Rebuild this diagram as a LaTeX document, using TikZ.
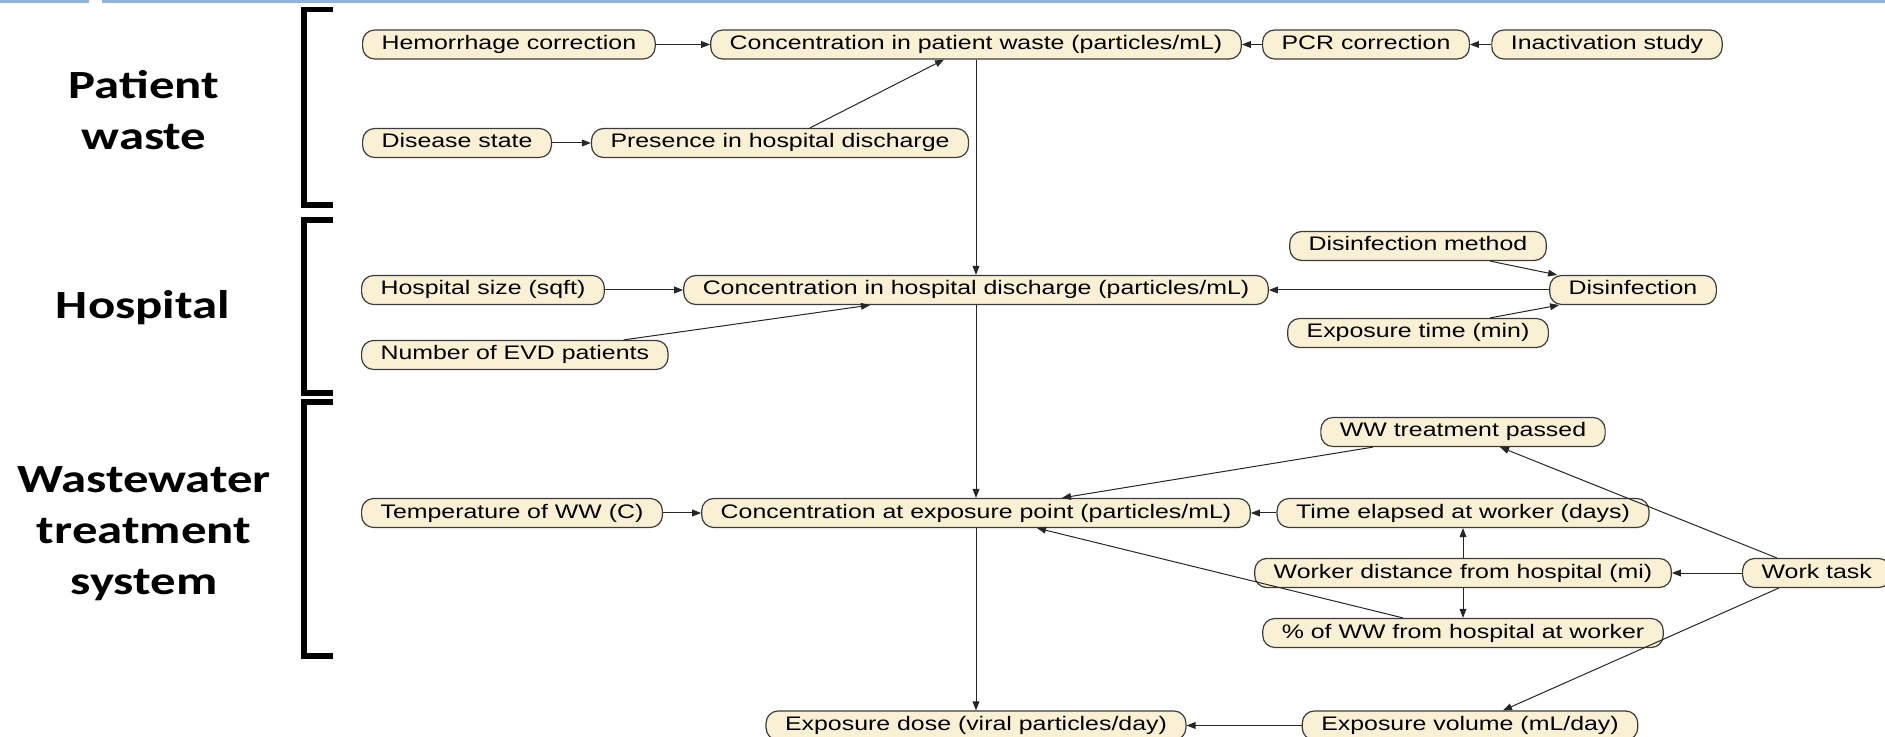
\documentclass[tikz,border=0pt]{standalone}
\usepackage{fontspec}
\newfontfamily\varfont[FakeStretch=1.27]{Liberation Sans}
\newfontfamily\bandfont[FakeStretch=1.27]{Carlito}
\definecolor{cream}{RGB}{250,240,212}
\definecolor{rimgray}{RGB}{60,60,60}
\definecolor{steelline}{RGB}{149,179,215}
\usetikzlibrary{arrows.meta}

\begin{document}
\begin{tikzpicture}[x=0.5pt,y=-0.5pt,
  var/.style={draw=rimgray,fill=cream,rounded corners=6pt,line width=0.6pt,
              minimum height=14.5pt,inner xsep=9.5pt,inner ysep=0pt,
              text height=7pt,text depth=2pt,
              font=\varfont\fontsize{9.8}{11}\selectfont},
  band/.style={align=center,inner sep=0pt,
               font=\bandfont\bfseries\fontsize{20}{25.5}\selectfont},
  bracket/.style={line width=2.6pt},
  link/.style={-{Triangle[length=4.5pt,width=3.4pt]},draw=black!85,line width=0.5pt}]
  \useasboundingbox (0,0) rectangle (1885,737);
  % rule along the top
  \fill[steelline] (0,0) rectangle (89,3.5);
  \fill[steelline] (102,0) rectangle (1885,3.5);
  % stage brackets and names
  \foreach \t/\b in {9.5/205,220/393,402/656}
    \draw[bracket] (333,\t) -| (304,\b) -- (333,\b);
  \node[band] (pw) at (144,110) {Patient\\waste};
  \node[band,anchor=base] (hp) at (143,319) {Hospital};
  \node[band] (wts) at (144,534) {Wastewater\\treatment\\system};

  % patient waste
  \node[var,anchor=west] (hem) at (362,44.5) {Hemorrhage correction};
  \node[var] (cpw) at (976,44.5) {Concentration in patient waste (particles/mL)};
  \node[var] (pcr) at (1366,44.5) {PCR correction};
  \node[var] (ina) at (1607,44.5) {Inactivation study};
  \node[var,anchor=west] (dst) at (362,143) {Disease state};
  \node[var] (pre) at (780,143) {Presence in hospital discharge};
  % hospital
  \node[var] (dsm) at (1418,246) {Disinfection method};
  \node[var,anchor=west] (hsz) at (361,290) {Hospital size (sqft)};
  \node[var] (chd) at (976,290) {Concentration in hospital discharge (particles/mL)};
  \node[var] (dsf) at (1633,290) {Disinfection};
  \node[var] (ext) at (1418,333) {Exposure time (min)};
  \node[var,anchor=west] (evd) at (361,355) {Number of EVD patients};
  % wastewater treatment system
  \node[var] (wwp) at (1463,432) {WW treatment passed};
  \node[var,anchor=west] (tmp) at (361,513) {Temperature of WW (C)};
  \node[var] (cep) at (976,513) {Concentration at exposure point (particles/mL)};
  \node[var] (tel) at (1463,513) {Time elapsed at worker (days)};
  \node[var] (wdh) at (1463,573) {Worker distance from hospital (mi)};
  \node[var,anchor=west] (wtk) at (1742,573) {Work task};
  \node[var] (pww) at (1463,633) {\% of WW from hospital at worker};
  \node[var] (edo) at (976,725.5) {Exposure dose (viral particles/day)};
  \node[var] (evo) at (1470,725.5) {Exposure volume (mL/day)};

  \draw[link] (hem) -- (cpw);
  \draw[link] (pcr) -- (cpw);
  \draw[link] (ina) -- (pcr);
  \draw[link] (dst) -- (pre);
  \draw[link] ([xshift=15pt]pre.north) -- ([xshift=-16pt]cpw.south);
  \draw[link] (cpw) -- (chd);
  \draw[link] (hsz) -- (chd);
  \draw[link] ([xshift=-22.5pt]evd.north east) -- ([xshift=-53pt]chd.south);
  \draw[link] (dsf) -- (chd);
  \draw[link] ([xshift=36pt]dsm.south) -- ([xshift=4pt]dsf.north west);
  \draw[link] ([xshift=36pt]ext.north) -- ([xshift=5pt]dsf.south west);
  \draw[link] (chd) -- (cep);
  \draw[link] (tmp) -- (cep);
  \draw[link] (tel) -- (cep);
  \draw[link] ([xshift=-45pt]wwp.south) -- ([xshift=43pt]cep.north);
  \draw[link] ([xshift=-30pt]pww.north) -- ([xshift=30.5pt]cep.south);
  \draw[link] (wdh) -- (tel);
  \draw[link] (wdh) -- (pww);
  \draw[link] (wtk) -- (wdh);
  \draw[link] ([xshift=-20pt]wtk.north) -- ([xshift=18.5pt]wwp.south);
  \draw[link] ([xshift=-19pt]wtk.south) -- ([xshift=16.5pt]evo.north);
  \draw[link] (evo) -- (edo);
  \draw[link] (cep) -- (edo);
\end{tikzpicture}
\end{document}
